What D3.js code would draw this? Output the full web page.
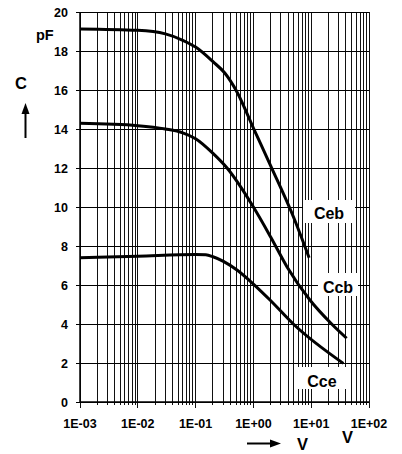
<!DOCTYPE html>
<html>
<head>
<meta charset="utf-8">
<script src="https://cdn.jsdelivr.net/npm/d3@7"></script>
<style>
  body { margin: 0; background: #fff; }
  svg text { font-family: Arial, "Liberation Sans", sans-serif; font-weight: bold; fill: #000; }
</style>
</head>
<body>
<div id="chart"></div>
<script>
// capacitance vs. voltage
var cebV = [0.001, 0.01, 0.03, 0.06, 0.1, 0.2, 0.32, 0.52, 1, 2, 5, 9.2];
var cebC = [19.13, 19.06, 18.88, 18.55, 18.2, 17.45, 16.87, 15.9, 14.05, 12.1, 9.45, 7.4];

var ccbV = [0.001, 0.01, 0.03, 0.06, 0.1, 0.2, 0.35, 1, 2, 3.8, 9.5, 22.6, 41];
var ccbC = [14.29, 14.17, 14.0, 13.8, 13.5, 12.75, 12.0, 10.0, 8.45, 6.94, 5.23, 4.0, 3.27];

var cceV = [0.001, 0.01, 0.1, 0.15, 0.2, 0.52, 1, 1.94, 4.9, 36];
var cceC = [7.4, 7.48, 7.57, 7.55, 7.45, 6.77, 6.05, 5.23, 4.0, 1.98];

var xTickLabels = ["1E-03", "1E-02", "1E-01", "1E+00", "1E+01", "1E+02"];
var yTicks = [0, 2, 4, 6, 8, 10, 12, 14, 16, 18, 20];

var width = 402, height = 454;
var margin = { top: 12, right: 33, bottom: 52, left: 80 };

var svg = d3.select("#chart").append("svg")
	.attr("width", width)
	.attr("height", height);

var x = d3.scaleLog()
	.domain([1e-3, 1e2])
	.range([margin.left, width - margin.right]);

var y = d3.scaleLinear()
	.domain([0, 20])
	.range([height - margin.bottom, margin.top]);

var x0 = x.range()[0], x1 = x.range()[1];
var y0 = y.range()[0], y1 = y.range()[1];

// vertical grid (log minor + major), running a little below the axis as ticks
var allTicks = x.ticks();
svg.append("g").selectAll("line")
	.data(allTicks)
	.enter().append("line")
	.attr("x1", function(d) { return x(d); })
	.attr("x2", function(d) { return x(d); })
	.attr("y1", y1)
	.attr("y2", function(d) {
		var m = Math.log10(d);
		return Math.abs(m - Math.round(m)) < 1e-9 ? y0 + 6 : y0 + 3;
	})
	.attr("stroke", "#111")
	.attr("stroke-width", 1)
	.attr("shape-rendering", "crispEdges");

// horizontal grid
svg.append("g").selectAll("line")
	.data(yTicks)
	.enter().append("line")
	.attr("x1", x0 - 4)
	.attr("x2", x1)
	.attr("y1", function(d) { return y(d); })
	.attr("y2", function(d) { return y(d); })
	.attr("stroke", "#000")
	.attr("stroke-width", 1)
	.attr("shape-rendering", "crispEdges");

// axis lines
svg.append("line")
	.attr("x1", x0).attr("x2", x0)
	.attr("y1", y1).attr("y2", y0)
	.attr("stroke", "#000").attr("stroke-width", 1.5);
svg.append("line")
	.attr("x1", x0).attr("x2", x1)
	.attr("y1", y0).attr("y2", y0)
	.attr("stroke", "#000").attr("stroke-width", 1.5);

// y tick labels
svg.append("g").selectAll("text")
	.data(yTicks)
	.enter().append("text")
	.attr("x", x0 - 12)
	.attr("y", function(d) { return y(d); })
	.attr("dy", "0.36em")
	.attr("text-anchor", "end")
	.attr("font-size", "12.5px")
	.text(function(d) { return d; });

// x tick labels
var majors = d3.range(-3, 3).map(function(e) { return Math.pow(10, e); });
svg.append("g").selectAll("text")
	.data(majors)
	.enter().append("text")
	.attr("x", function(d) { return x(d); })
	.attr("y", 428)
	.attr("text-anchor", "middle")
	.attr("font-size", "12.5px")
	.text(function(d, i) { return xTickLabels[i]; });

// curves
var line = d3.line()
	.x(function(d) { return x(d[0]); })
	.y(function(d) { return y(d[1]); })
	.curve(d3.curveMonotoneX);

var series = [
	{ v: cebV, c: cebC },
	{ v: ccbV, c: ccbC },
	{ v: cceV, c: cceC }
];

svg.append("g").selectAll("path")
	.data(series)
	.enter().append("path")
	.attr("d", function(s) { return line(d3.zip(s.v, s.c)); })
	.attr("fill", "none")
	.attr("stroke", "#000")
	.attr("stroke-width", 3)
	.attr("stroke-linejoin", "round");

// curve labels on white boxes
var curveLabels = [
	{ text: "Ceb", x: 329, y: 219, box: [303, 200, 52, 23] },
	{ text: "Ccb", x: 338, y: 293, box: [318, 273, 40, 23] },
	{ text: "Cce", x: 322, y: 387, box: [297, 367, 50, 22] }
];
var lab = svg.append("g").selectAll("g")
	.data(curveLabels)
	.enter().append("g");
lab.append("rect")
	.attr("x", function(d) { return d.box[0]; })
	.attr("y", function(d) { return d.box[1]; })
	.attr("width", function(d) { return d.box[2]; })
	.attr("height", function(d) { return d.box[3]; })
	.attr("fill", "#fff");
lab.append("text")
	.attr("x", function(d) { return d.x; })
	.attr("y", function(d) { return d.y; })
	.attr("text-anchor", "middle")
	.attr("font-size", "16px")
	.text(function(d) { return d.text; });

// axis titles
svg.append("text").attr("x", 36).attr("y", 39.5).attr("font-size", "14.5px").text("pF");
svg.append("text").attr("x", 21).attr("y", 89).attr("text-anchor", "middle").attr("font-size", "16.5px").text("C");
svg.append("text").attr("x", 302.5).attr("y", 450).attr("text-anchor", "middle").attr("font-size", "16.5px").text("V");
svg.append("text").attr("x", 347.5).attr("y", 443).attr("text-anchor", "middle").attr("font-size", "16.5px").text("V");

// arrows
svg.append("line")
	.attr("x1", 25.5).attr("x2", 25.5)
	.attr("y1", 138).attr("y2", 111)
	.attr("stroke", "#000").attr("stroke-width", 2);
svg.append("path")
	.attr("d", "M25.5,103 L21.5,114 L29.5,114 Z")
	.attr("fill", "#000");
svg.append("line")
	.attr("x1", 247).attr("x2", 272)
	.attr("y1", 443.5).attr("y2", 443.5)
	.attr("stroke", "#000").attr("stroke-width", 2);
svg.append("path")
	.attr("d", "M281,443.5 L270,439.5 L270,447.5 Z")
	.attr("fill", "#000");
</script>
</body>
</html>
